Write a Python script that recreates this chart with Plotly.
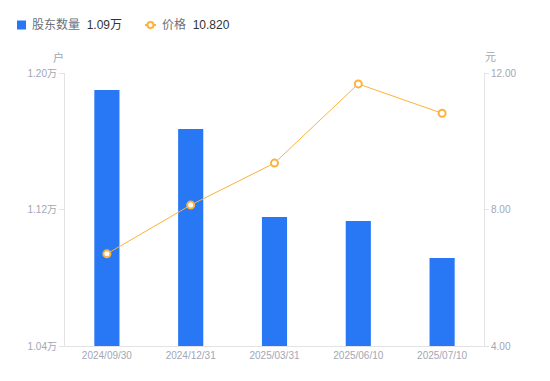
import plotly.graph_objects as go

dates = ["2024/09/30", "2024/12/31", "2025/03/31", "2025/06/10", "2025/07/10"]
holders = [11900, 11672, 11156, 11133, 10916]
prices = [6.70, 8.13, 9.36, 11.68, 10.82]

left_tickvals = [10400, 11200, 12000]
left_ticktext = ["1.04万", "1.12万", "1.20万"]
right_tickvals = [4, 8, 12]
right_ticktext = ["4.00", "8.00", "12.00"]

BLUE = "#2878F5"
ORANGE = "#FDB23A"
GRAY = "#A3A6B4"
AXIS = "#E3E3E6"
FONT = "Liberation Sans, Noto Sans CJK SC, sans-serif"

W, H = 550, 381
L, R, T, B = 65, 66, 73, 35
PW, PH = W - L - R, H - T - B


def px(x):
    return (x - L) / PW


def py(y):
    return (H - B - y) / PH


fig = go.Figure()
fig.add_trace(go.Bar(x=dates, y=holders, marker=dict(color=BLUE, line=dict(width=0)),
                     width=0.3, yaxis="y", name="股东数量"))
fig.add_trace(go.Scatter(x=dates, y=prices, yaxis="y2", mode="lines+markers",
                         line=dict(color=ORANGE, width=1),
                         marker=dict(symbol="circle", size=7, color="white",
                                     line=dict(color=ORANGE, width=2)),
                         name="价格"))

fig.update_layout(
    width=W, height=H,
    margin=dict(l=L, r=R, t=T, b=B, pad=0),
    paper_bgcolor="white", plot_bgcolor="white",
    showlegend=False,
    font=dict(family=FONT, size=10, color=GRAY),
    xaxis=dict(type="category", showline=True, linecolor=AXIS, linewidth=1,
               showgrid=False, ticks="", tickfont=dict(size=10, color=GRAY),
               zeroline=False),
    yaxis=dict(range=[10400, 12000], tickvals=left_tickvals, ticktext=left_ticktext,
               showline=True, linecolor=AXIS, linewidth=1, showgrid=False,
               ticks="outside", ticklen=5, tickcolor=AXIS, zeroline=False,
               tickfont=dict(size=10, color=GRAY)),
    yaxis2=dict(range=[4, 12], tickvals=right_tickvals, ticktext=right_ticktext,
                overlaying="y", side="right", showline=True, linecolor=AXIS,
                linewidth=1, showgrid=False, ticks="outside", ticklen=4,
                tickcolor=AXIS, zeroline=False, tickfont=dict(size=10, color=GRAY)),
)

# unit labels
fig.add_annotation(text="户", xref="paper", yref="paper", x=px(58), y=py(57),
                   xanchor="center", yanchor="middle",
                   showarrow=False, font=dict(size=11, color=GRAY))
fig.add_annotation(text="元", xref="paper", yref="paper", x=px(490), y=py(57),
                   xanchor="center", yanchor="middle",
                   showarrow=False, font=dict(size=11, color=GRAY))

# custom legend
fig.add_shape(type="rect", xref="paper", yref="paper",
              x0=px(17), x1=px(26), y0=py(29.5), y1=py(20.5),
              fillcolor=BLUE, line=dict(width=0))
fig.add_annotation(text='<span style="color:#6E7079">股东数量</span>  <span style="color:#333333">1.09万</span>',
                   xref="paper", yref="paper", x=px(30), y=py(25), xanchor="left",
                   yanchor="middle", showarrow=False, font=dict(size=12))
fig.add_shape(type="line", xref="paper", yref="paper",
              x0=px(145), x1=px(156), y0=py(25), y1=py(25),
              line=dict(color=ORANGE, width=2))
fig.add_shape(type="circle", xref="paper", yref="paper",
              x0=px(147.5), x1=px(153.5), y0=py(28), y1=py(22),
              fillcolor="white", line=dict(color=ORANGE, width=2))
fig.add_annotation(text='<span style="color:#6E7079">价格</span>  <span style="color:#333333">10.820</span>',
                   xref="paper", yref="paper", x=px(160), y=py(25), xanchor="left",
                   yanchor="middle", showarrow=False, font=dict(size=12))

fig.write_html("out.html", config={"displayModeBar": False},
               post_script="document.body.style.margin='0';")
